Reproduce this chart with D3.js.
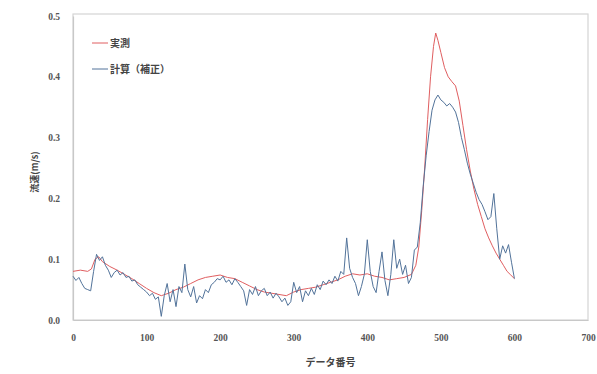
<!DOCTYPE html>
<html>
<head>
<meta charset="utf-8">
<script src="https://cdn.jsdelivr.net/npm/d3@7"></script>
<style>
  html, body { margin: 0; padding: 0; background: #fff; }
  svg { display: block; font-family: "Noto Sans CJK JP", "Noto Sans", sans-serif; }
</style>
</head>
<body>
<svg id="chart" width="597" height="374"></svg>
<script>
// 実測 (measured velocity)
const measuredNo = [0,10,20,25,30,35,40,50,60,70,80,90,100,110,120,130,140,150,160,170,180,190,200,210,220,230,240,250,260,270,280,290,300,310,320,330,340,350,360,370,380,390,400,410,420,430,440,450,460,466,470,474,478,482,486,490,493,496,500,505,510,515,520,525,530,535,540,545,550,555,560,565,570,575,580,585,590,595,600];
const measuredVel = [0.080,0.082,0.080,0.084,0.100,0.104,0.096,0.088,0.082,0.075,0.068,0.060,0.052,0.045,0.040,0.044,0.050,0.054,0.060,0.066,0.070,0.072,0.074,0.070,0.068,0.062,0.056,0.050,0.046,0.044,0.042,0.040,0.046,0.050,0.052,0.054,0.058,0.062,0.066,0.072,0.076,0.074,0.076,0.072,0.070,0.066,0.068,0.070,0.075,0.090,0.120,0.180,0.250,0.330,0.400,0.450,0.472,0.460,0.440,0.415,0.400,0.392,0.385,0.360,0.320,0.280,0.245,0.215,0.190,0.170,0.150,0.135,0.122,0.110,0.100,0.090,0.080,0.074,0.068];

// 計算（補正） (computed velocity, corrected), every 4th data number
const calcNo = d3.range(0, 601, 4);
const calcVel = [
  0.072,0.065,0.070,0.060,0.052,0.050,0.048,0.080,0.108,0.098,
  0.104,0.090,0.082,0.070,0.078,0.082,0.074,0.078,0.070,0.072,
  0.064,0.066,0.058,0.054,0.050,0.046,0.040,0.044,0.034,0.038,
  0.006,0.040,0.060,0.030,0.050,0.022,0.055,0.045,0.092,0.050,
  0.038,0.055,0.028,0.040,0.035,0.050,0.045,0.058,0.062,0.068,
  0.066,0.072,0.062,0.066,0.058,0.068,0.062,0.055,0.048,0.024,
  0.050,0.042,0.055,0.040,0.048,0.052,0.040,0.046,0.036,0.044,
  0.038,0.030,0.036,0.024,0.030,0.062,0.045,0.055,0.030,0.048,
  0.040,0.052,0.042,0.058,0.050,0.064,0.058,0.066,0.060,0.072,
  0.064,0.080,0.075,0.135,0.085,0.070,0.060,0.040,0.055,0.075,
  0.132,0.080,0.055,0.045,0.080,0.112,0.065,0.040,0.075,0.132,
  0.085,0.100,0.075,0.090,0.060,0.070,0.115,0.120,0.160,0.220,
  0.270,0.310,0.345,0.362,0.370,0.362,0.358,0.352,0.356,0.350,
  0.342,0.325,0.300,0.280,0.258,0.240,0.225,0.210,0.198,0.190,
  0.178,0.165,0.170,0.208,0.150,0.100,0.122,0.110,0.124,0.095,
  0.068
];

const xTicks = [0,100,200,300,400,500,600,700];
const yTicks = [0.0,0.1,0.2,0.3,0.4,0.5];
const legendLabels = ["実測", "計算（補正）"];
const xTitle = "データ番号";
const yTitle = "流速(m/s)";

const colors = ["#e05e60", "#52739a"];

const svg = d3.select("#chart");
const plot = { left: 73, right: 588, top: 16, bottom: 320 };

const x = d3.scaleLinear().domain([0, 700]).range([plot.left, plot.right]);
const y = d3.scaleLinear().domain([0, 0.5]).range([plot.bottom, plot.top]);

// plot area frame
svg.append("rect")
  .attr("x", plot.left).attr("y", plot.top - 2)
  .attr("width", plot.right - plot.left).attr("height", plot.bottom - plot.top + 2)
  .attr("fill", "none").attr("stroke", "#d4d4d4").attr("stroke-width", 1.2);

// axes
const xAxis = svg.append("g")
  .attr("transform", `translate(0,${plot.bottom})`)
  .call(d3.axisBottom(x).tickValues(xTicks).tickSize(0).tickPadding(14).tickFormat(d3.format("d")));
const yAxis = svg.append("g")
  .attr("transform", `translate(${plot.left},0)`)
  .call(d3.axisLeft(y).tickValues(yTicks).tickSize(0).tickPadding(13).tickFormat(d3.format(".1f")));
[xAxis, yAxis].forEach(g => {
  g.select(".domain").attr("stroke", "#c8c8c8").attr("stroke-width", 1.2);
  g.selectAll("text").attr("fill", "#555").attr("font-size", 9.5).attr("font-weight", 700)
    .attr("font-family", "'Liberation Serif', serif");
});

// series lines
const line = d3.line().x(d => x(d[0])).y(d => y(d[1]));
const measured = measuredNo.map((n, i) => [n, measuredVel[i]]);
const calc = calcNo.map((n, i) => [n, calcVel[i]]);

svg.append("path").datum(measured)
  .attr("d", line).attr("fill", "none")
  .attr("stroke", colors[0]).attr("stroke-width", 1);
svg.append("path").datum(calc)
  .attr("d", line).attr("fill", "none")
  .attr("stroke", colors[1]).attr("stroke-width", 1);

// legend
const legend = svg.append("g");
legendLabels.forEach((label, i) => {
  const ly = 43 + i * 26;
  legend.append("line")
    .attr("x1", 92).attr("x2", 108).attr("y1", ly).attr("y2", ly)
    .attr("stroke", colors[i]).attr("stroke-width", 1);
  legend.append("text")
    .attr("x", 110).attr("y", ly).attr("dy", "0.35em")
    .attr("font-size", 10).attr("font-weight", 700).attr("fill", "#444")
    .text(label);
});

// axis titles
svg.append("text")
  .attr("x", (plot.left + plot.right) / 2).attr("y", 366)
  .attr("text-anchor", "middle")
  .attr("font-size", 10).attr("font-weight", 700).attr("fill", "#444")
  .text(xTitle);
svg.append("text")
  .attr("transform", `translate(38,172) rotate(-90)`)
  .attr("text-anchor", "middle")
  .attr("font-size", 9).attr("font-weight", 700).attr("fill", "#444")
  .text(yTitle);
</script>
</body>
</html>
